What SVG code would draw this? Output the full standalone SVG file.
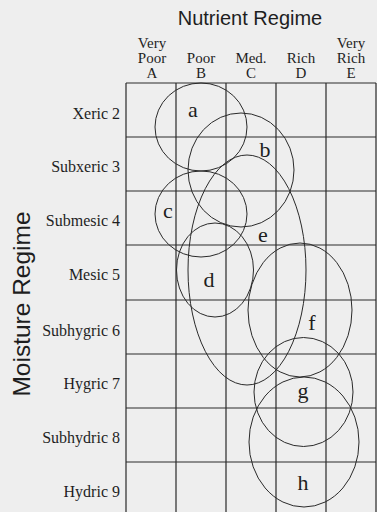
<svg xmlns="http://www.w3.org/2000/svg" width="377" height="512" viewBox="0 0 377 512">
<style>
.grid{stroke:#2a2a2a;stroke-width:1.2;fill:none}
.zone{stroke:#2a2a2a;stroke-width:1;fill:none}
.sans{font-family:"Liberation Sans",Arial,sans-serif;font-size:20px;fill:#1e1e1e}
.hdr{font-family:"Liberation Serif","Times New Roman",serif;font-size:15px;fill:#1e1e1e;text-anchor:middle}
.row{font-family:"Liberation Serif","Times New Roman",serif;font-size:16px;fill:#1e1e1e;text-anchor:end}
.lbl{font-family:"Liberation Serif","Times New Roman",serif;font-size:22px;fill:#1e1e1e;text-anchor:middle}
</style>
<rect x="0" y="0" width="377" height="512" fill="#eeeeee"/>
<text class="sans" x="250" y="25" text-anchor="middle">Nutrient Regime</text>
<text class="sans" transform="translate(30,304) rotate(-90)" text-anchor="middle" style="font-size:24.5px">Moisture Regime</text>
<g id="headers">
<text class="hdr" x="152" y="48">Very</text><text class="hdr" x="152" y="63">Poor</text><text class="hdr" x="152" y="78">A</text>
<text class="hdr" x="201" y="63">Poor</text><text class="hdr" x="201" y="78">B</text>
<text class="hdr" x="251" y="63">Med.</text><text class="hdr" x="251" y="78">C</text>
<text class="hdr" x="301" y="63">Rich</text><text class="hdr" x="301" y="78">D</text>
<text class="hdr" x="351" y="48">Very</text><text class="hdr" x="351" y="63">Rich</text><text class="hdr" x="351" y="78">E</text>
</g>
<g id="rows">
<text class="row" x="120" y="119">Xeric 2</text>
<text class="row" x="120" y="172">Subxeric 3</text>
<text class="row" x="120" y="226">Submesic 4</text>
<text class="row" x="120" y="280">Mesic 5</text>
<text class="row" x="120" y="336">Subhygric 6</text>
<text class="row" x="120" y="389">Hygric 7</text>
<text class="row" x="120" y="443">Subhydric 8</text>
<text class="row" x="120" y="497">Hydric 9</text>
</g>
<g id="grid" class="grid">
<path d="M126,83V512M176,83V512M226,83V512M276,83V512M326,83V512M376,83V512"/>
<path d="M126,83H376M126,137H376M126,191H376M126,245H376M126,300H376M126,354H376M126,408H376M126,462H376"/>
</g>
<g id="zones" class="zone">
<g id="zone-a"><ellipse cx="201" cy="127" rx="46" ry="44"/></g>
<g id="zone-b"><ellipse cx="241" cy="170" rx="53" ry="57"/></g>
<g id="zone-c"><ellipse cx="201" cy="214" rx="46" ry="43"/></g>
<g id="zone-d"><ellipse cx="215" cy="270" rx="38.5" ry="47"/></g>
<g id="zone-e"><ellipse cx="247" cy="270" rx="59" ry="115"/></g>
<g id="zone-f"><ellipse cx="300" cy="310" rx="52" ry="67"/></g>
<g id="zone-g"><ellipse cx="303.5" cy="392" rx="49.5" ry="54.5"/></g>
<g id="zone-h"><ellipse cx="304" cy="442" rx="55" ry="65"/></g>
</g>
<g id="labels">
<text class="lbl" x="193" y="117">a</text>
<text class="lbl" x="265" y="157">b</text>
<text class="lbl" x="168" y="218">c</text>
<text class="lbl" x="209" y="287">d</text>
<text class="lbl" x="263" y="242">e</text>
<text class="lbl" x="312" y="330">f</text>
<text class="lbl" x="303" y="398">g</text>
<text class="lbl" x="303" y="490">h</text>
</g>
</svg>
